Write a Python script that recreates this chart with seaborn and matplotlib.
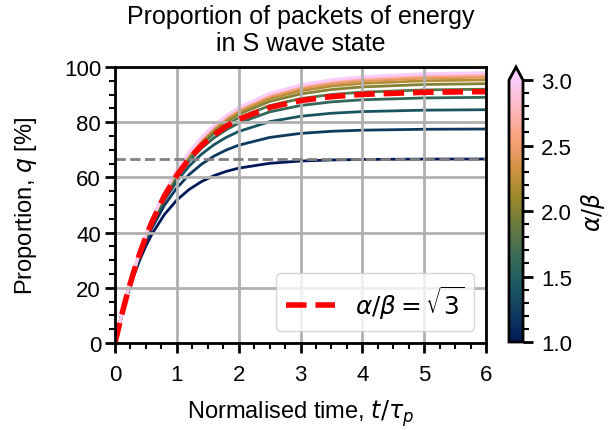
import numpy as np
import pandas as pd
import matplotlib
matplotlib.use("Agg")
import matplotlib.pyplot as plt
from matplotlib.colors import LinearSegmentedColormap, Normalize
from matplotlib.cm import ScalarMappable
from matplotlib.ticker import MultipleLocator
import seaborn as sns

# Normalised time samples
t = [0.0, 0.1, 0.2, 0.3, 0.4, 0.5, 0.6, 0.8, 1.0, 1.2, 1.4, 1.6, 1.8, 2.0,
     2.5, 3.0, 3.5, 4.0, 5.0, 6.0]

# Velocity ratios alpha/beta of the family of curves
ratios = [1.0, 1.2, 1.4, 1.6, 1.8, 2.0, 2.2, 2.4, 2.6, 2.8, 3.0]

# S-wave proportion q [%] for each ratio
q_10 = [0.0, 9.29, 17.28, 24.16, 30.08, 35.17, 39.56, 46.59, 51.79, 55.65, 58.50,
        60.62, 62.19, 63.35, 65.10, 65.93, 66.32, 66.50, 66.63, 66.66]
q_12 = [0.0, 9.38, 17.63, 24.88, 31.25, 36.86, 41.78, 49.91, 56.19, 61.05, 64.80,
        67.70, 69.94, 71.67, 74.47, 75.94, 76.71, 77.11, 77.44, 77.53]
q_14 = [0.0, 9.43, 17.81, 25.26, 31.87, 37.75, 42.97, 51.74, 58.65, 64.12, 68.43,
        71.83, 74.52, 76.64, 80.19, 82.15, 83.24, 83.84, 84.36, 84.52]
q_16 = [0.0, 9.46, 17.91, 25.47, 32.23, 38.27, 43.67, 52.80, 60.10, 65.93, 70.59,
        74.32, 77.29, 79.67, 83.73, 86.05, 87.36, 88.12, 88.79, 89.01]
q_18 = [0.0, 9.48, 17.98, 25.60, 32.45, 38.58, 44.09, 53.46, 61.01, 67.08, 71.96,
        75.89, 79.06, 81.60, 85.99, 88.55, 90.04, 90.90, 91.70, 91.96]
q_20 = [0.0, 9.49, 18.01, 25.69, 32.58, 38.79, 44.37, 53.89, 61.59, 67.82, 72.86,
        76.92, 80.22, 82.88, 87.51, 90.23, 91.83, 92.78, 93.66, 93.96]
q_22 = [0.0, 9.49, 18.04, 25.75, 32.68, 38.92, 44.55, 54.18, 61.99, 68.32, 73.46,
        77.62, 81.00, 83.74, 88.54, 91.38, 93.07, 94.06, 95.00, 95.33]
q_24 = [0.0, 9.50, 18.06, 25.79, 32.75, 39.02, 44.68, 54.38, 62.27, 68.68, 73.89,
        78.12, 81.56, 84.36, 89.27, 92.20, 93.94, 94.98, 95.97, 96.32]
q_26 = [0.0, 9.50, 18.07, 25.80, 32.79, 39.09, 44.77, 54.53, 62.47, 68.93, 74.19,
        78.47, 81.96, 84.80, 89.80, 92.79, 94.58, 95.64, 96.66, 97.03]
q_28 = [0.0, 9.50, 18.09, 25.83, 32.83, 39.15, 44.85, 54.63, 62.61, 69.11, 74.41,
        78.73, 82.25, 85.13, 90.19, 93.22, 95.04, 96.14, 97.18, 97.56]
q_30 = [0.0, 9.50, 18.09, 25.85, 32.85, 39.18, 44.89, 54.72, 62.73, 69.26, 74.59,
        78.94, 82.48, 85.38, 90.48, 93.56, 95.40, 96.51, 97.58, 97.96]

# Highlighted case alpha/beta = sqrt(3)
q_sqrt3 = [0.0, 9.47, 17.96, 25.57, 32.38, 38.49, 43.97, 53.27, 60.74, 66.74, 71.56,
           75.43, 78.54, 81.04, 85.34, 87.82, 89.25, 90.08, 90.84, 91.09]

# Equilibrium proportion for alpha/beta = 1
q_eq_1 = 66.67

curves = [q_10, q_12, q_14, q_16, q_18, q_20, q_22, q_24, q_26, q_28, q_30]
df = pd.DataFrame({
    "t": np.tile(t, len(ratios)),
    "q": np.concatenate(curves),
    "ratio": np.repeat(ratios, len(t)),
})
df_sqrt3 = pd.DataFrame({"t": t, "q": q_sqrt3})

sns.set_style("ticks")
plt.rcParams["font.family"] = ["Liberation Sans", "DejaVu Sans"]
plt.rcParams["mathtext.fontset"] = "dejavusans"
for key in ["text.color", "axes.labelcolor", "xtick.color", "ytick.color",
            "axes.edgecolor"]:
    plt.rcParams[key] = "black"

# batlow-like sequential colormap
cmap = LinearSegmentedColormap.from_list(
    "batlow",
    ["#011959", "#0F3D5F", "#1C5A62", "#3C6D56", "#687B3E",
     "#9D892B", "#D29343", "#F8A17B", "#FDB7BC", "#FACCFA"])
norm = Normalize(vmin=1.0, vmax=3.0)

fig = plt.figure(figsize=(6.12, 4.31), dpi=100)
ax = fig.add_axes([115 / 612, 1 - 344 / 431, 371 / 612, 276 / 431])
cax = fig.add_axes([509 / 612, 1 - 343 / 431, 14 / 612, 275 / 431])

sns.lineplot(data=df, x="t", y="q", hue="ratio", palette=cmap, hue_norm=norm,
             linewidth=2, legend=False, ax=ax, zorder=2)
ax.axhline(q_eq_1, color="#808080", linestyle="--", linewidth=2, zorder=2.6)
sns.lineplot(data=df_sqrt3, x="t", y="q", color="red", linestyle="--",
             linewidth=4, ax=ax, zorder=3, label=r"$\alpha/\beta = \sqrt{3}$")

ax.set_xlim(0, 6)
ax.set_ylim(0, 100)
ax.xaxis.set_major_locator(MultipleLocator(1))
ax.xaxis.set_minor_locator(MultipleLocator(0.25))
ax.yaxis.set_major_locator(MultipleLocator(20))
ax.yaxis.set_minor_locator(MultipleLocator(5))
ax.set_axisbelow(False)
ax.grid(True, which="major", color="#b0b0b0", linewidth=2, zorder=2.5)

fs_tick = 16
fs_label = 17
ax.tick_params(which="major", direction="out", length=7, width=2, labelsize=fs_tick)
ax.tick_params(which="minor", direction="out", length=4, width=1.5)
ax.tick_params(axis="x", which="major", pad=8)
ax.tick_params(axis="y", which="major", pad=3)
for sp in ax.spines.values():
    sp.set_linewidth(2)
    sp.set_zorder(4)

ax.set_xlabel(r"Normalised time, $t/\tau_p$", fontsize=fs_label, labelpad=9)
ax.set_ylabel(r"Proportion, $q$ [%]", fontsize=fs_label, labelpad=18)
ax.set_title("Proportion of packets of energy\nin S wave state", fontsize=18,
             pad=12, linespacing=1.15)

leg = ax.legend(loc="lower right", fontsize=17.8, fancybox=True, framealpha=0.8,
                edgecolor="#cccccc")
leg.set_zorder(5)

sm = ScalarMappable(norm=norm, cmap=cmap)
cb = fig.colorbar(sm, cax=cax, extend="max")
cb.set_ticks([1.0, 1.5, 2.0, 2.5, 3.0])
cb.ax.yaxis.set_minor_locator(MultipleLocator(0.1))
cb.ax.tick_params(which="major", length=7, width=2, labelsize=fs_tick, pad=6)
cb.ax.tick_params(which="minor", length=4, width=1.5)
cb.outline.set_linewidth(2)
cb.set_label(r"$\alpha/\beta$", fontsize=fs_label, labelpad=5)

fig.savefig("out.png", dpi=100)
